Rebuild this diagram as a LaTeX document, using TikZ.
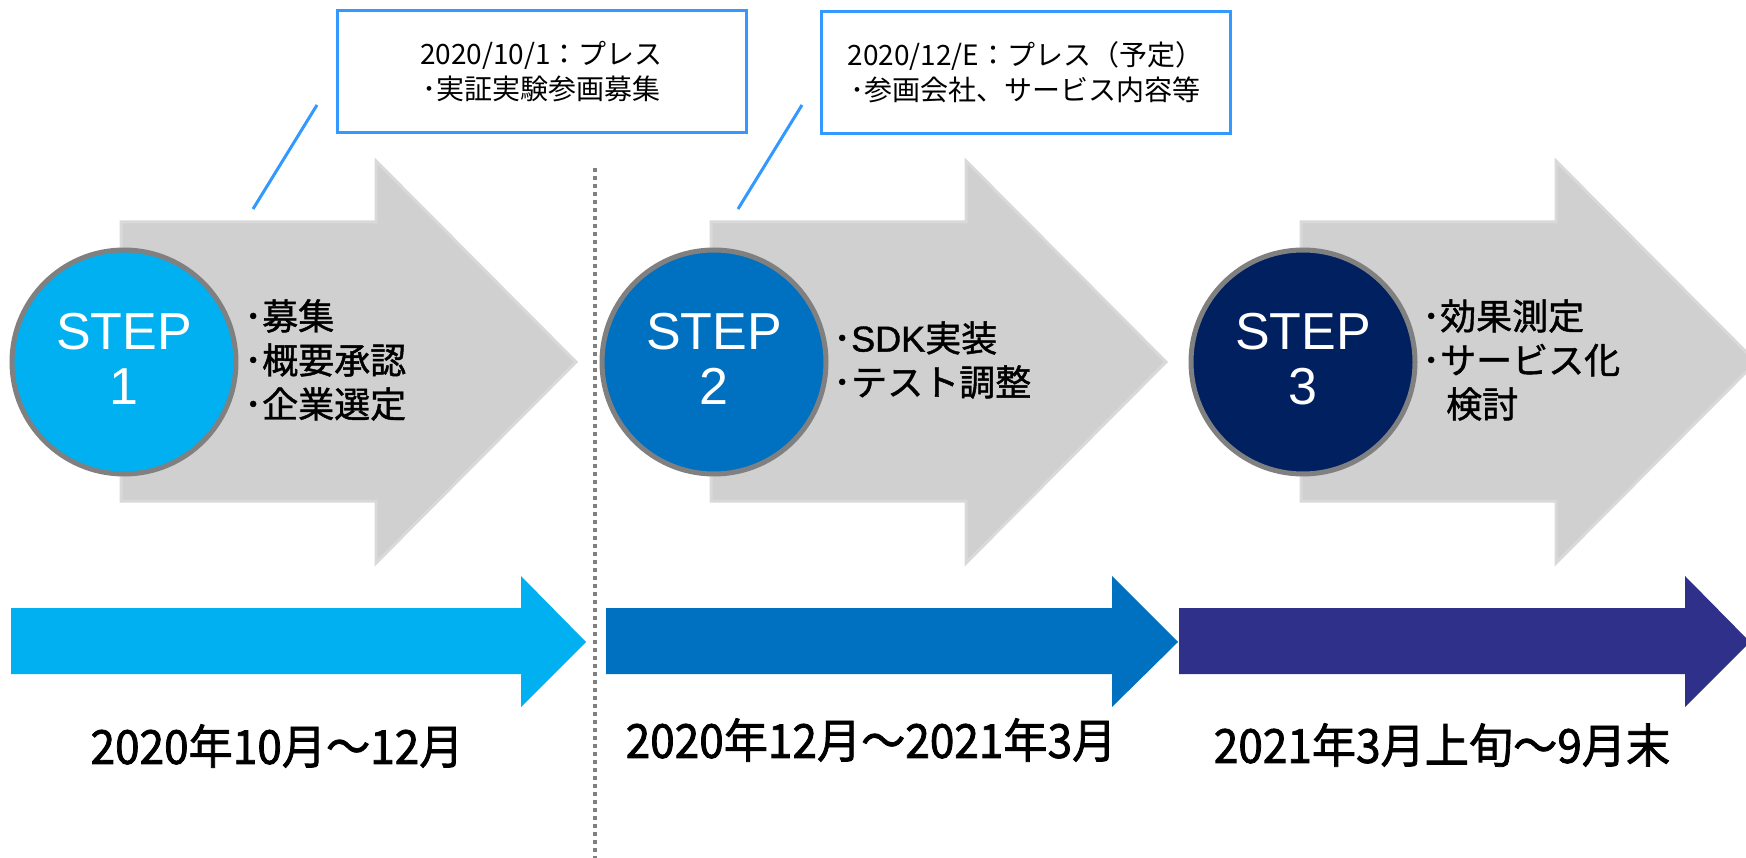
\documentclass[tikz,border=0pt]{standalone}
\usepackage{fontspec}
\setmainfont{Noto Sans CJK JP}
\newfontfamily\arialf{Liberation Sans}
\newfontfamily\jpbold{Noto Sans CJK JP}[FakeBold=1.2]
\newfontfamily\arialbold{Liberation Sans}[FakeBold=1.2]
\newfontfamily\jpdate{Noto Sans CJK JP}[FakeBold=1.6,FakeStretch=0.94]
\definecolor{lblue}{HTML}{00B0F0}
\definecolor{mblue}{HTML}{0070C0}
\definecolor{navy}{HTML}{002060}
\definecolor{violetarrow}{HTML}{2E3089}
\definecolor{grayfill}{HTML}{D0D0D0}
\definecolor{grayedge}{HTML}{D9D9D9}
\definecolor{circborder}{HTML}{808080}
\definecolor{calloutblue}{HTML}{3399FF}
\definecolor{sepgray}{HTML}{808080}
\begin{document}
\begin{tikzpicture}[x=1pt,y=-1pt,
  grayarrow/.style={fill=grayfill, draw=grayedge, line width=3pt, line join=miter},
  stepcircle/.style={circle, draw=circborder, line width=5pt, minimum size=224pt, inner sep=0pt},
  steptext/.style={text=white, font=\arialf\fontsize{52}{55}\selectfont, align=center, inner sep=0pt},
  bullets/.style={anchor=west, align=left, font=\jpbold\fontsize{36}{44}\selectfont, inner sep=0pt},
  callout/.style={draw=calloutblue, line width=3pt, fill=white, minimum width=409pt, minimum height=122pt, align=center, font=\fontsize{28}{35}\selectfont},
  callline/.style={draw=calloutblue, line width=3pt},
  datetext/.style={font=\jpdate\fontsize{47}{50}\selectfont, inner sep=0pt},
  sepline/.style={draw=sepgray, line width=4pt, dash pattern=on 4pt off 4pt}
]
\useasboundingbox (0,0) rectangle (1746,858);

% big gray arrows
\foreach \dx in {0,590,1180}{
  \draw[grayarrow, shift={(\dx,0)}] (121,222) -- (376,222) -- (376,161) -- (576,362) -- (376,563) -- (376,501) -- (121,501) -- cycle;
}

% separator
\coordinate (septop) at (595,168);
\coordinate (sepbot) at (595,858);
\draw[sepline] (septop) -- (sepbot);

% step circles
\node[stepcircle, fill=lblue] (c1) at (124,362) {};
\node[stepcircle, fill=mblue] (c2) at (714,362) {};
\node[stepcircle, fill=navy]  (c3) at (1303,362) {};
\node[steptext] (s1) at (124,359) {STEP\\1};
\node[steptext] (s2) at (714,359) {STEP\\2};
\node[steptext] (s3) at (1303,359) {STEP\\3};

% bullet texts
\node[bullets] (b1) at (244,360) {･募集\\･概要承認\\･企業選定};
\node[bullets] (b2) at (833,360) {･{\arialbold SDK}実装\\･テスト調整};
\node[bullets] (b3) at (1422,360) {･効果測定\\･サービス化\\\phantom{･}\,検討};

% callouts
\node[callout] (k1) at (541.5,72) {2020/10/1：プレス\\･実証実験参画募集};
\node[callout] (k2) at (1025.5,72.5) {2020/12/E：プレス（予定）\\･参画会社、サービス内容等};
\coordinate (k1a) at (317,105);
\coordinate (k1b) at (253,209);
\coordinate (k2a) at (802,105);
\coordinate (k2b) at (738,209);
\draw[callline] (k1a) -- (k1b);
\draw[callline] (k2a) -- (k2b);

% timeline arrows
\fill[lblue] (11,608) -- (521,608) -- (521,576) -- (586,642) -- (521,707) -- (521,674) -- (11,674) -- cycle;
\fill[mblue] (606,608) -- (1112,608) -- (1112,576) -- (1178,642) -- (1112,707) -- (1112,674) -- (606,674) -- cycle;
\fill[violetarrow] (1179,608) -- (1685,608) -- (1685,576) -- (1750,642) -- (1685,707) -- (1685,674) -- (1179,674) -- cycle;

% dates
\node[datetext] (d1) at (277,746) {2020年10月～12月};
\node[datetext] (d2) at (871,740) {2020年12月～2021年3月};
\node[datetext] (d3) at (1442,745) {2021年3月上旬～9月末};
\end{tikzpicture}
\end{document}
